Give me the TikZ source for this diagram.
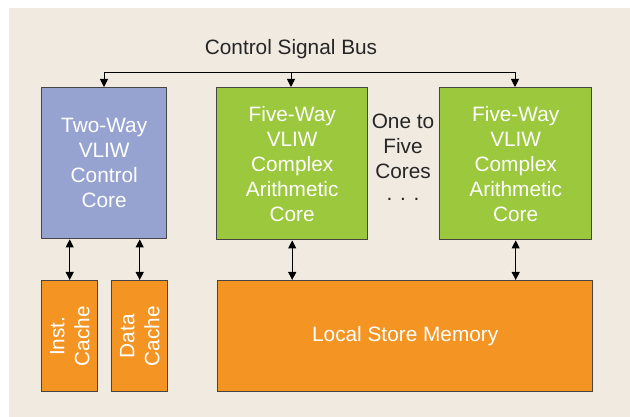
\documentclass[tikz,border=0pt]{standalone}
\usepackage{fontspec}
\setmainfont{Liberation Sans}
\usetikzlibrary{arrows.meta}
\definecolor{bgbeige}{HTML}{F1EAE1}
\definecolor{ctrlblue}{HTML}{96A3D1}
\definecolor{coregreen}{HTML}{9BC83C}
\definecolor{memorange}{HTML}{F39423}
\definecolor{edgegray}{HTML}{454545}
\tikzset{
  blk/.style={draw=edgegray, line width=1.4pt, inner sep=0pt, anchor=north west},
  wtext/.style={text=white, font=\fontsize{20.8}{25}\selectfont, align=center},
  btext/.style={text=black!85, font=\fontsize{20.8}{25}\selectfont, align=center},
  conn/.style={draw=black, line width=0.9pt, -{Triangle[length=8pt,width=8pt]}},
  bidir/.style={draw=black, line width=0.9pt, {Triangle[length=8pt,width=8pt]}-{Triangle[length=8pt,width=8pt]}}
}
\begin{document}
\begin{tikzpicture}[x=1pt,y=-1pt]
\useasboundingbox (0,0) rectangle (630,417);
\fill[white] (0,0) rectangle (630,417);
\fill[bgbeige] (9,8) rectangle (630,417);

\node[blk, fill=ctrlblue, minimum width=125pt, minimum height=151pt] (ctrl) at (41,87) {};
\node[wtext] at (ctrl.center) {Two-Way\\VLIW\\Control\\Core};

\node[blk, fill=coregreen, minimum width=151pt, minimum height=152pt] (core1) at (216,87) {};
\node[wtext] at (core1.center) {Five-Way\\VLIW\\Complex\\Arithmetic\\Core};

\node[blk, fill=coregreen, minimum width=152pt, minimum height=152pt] (core2) at (439,87) {};
\node[wtext] at (core2.center) {Five-Way\\VLIW\\Complex\\Arithmetic\\Core};

\node[blk, fill=memorange, minimum width=56pt, minimum height=111pt] (icache) at (41,280) {};
\node[wtext, rotate=90] at (icache.center) {Inst.\\Cache};

\node[blk, fill=memorange, minimum width=56pt, minimum height=111pt] (dcache) at (111,280) {};
\node[wtext, rotate=90] at (dcache.center) {Data\\Cache};

\node[blk, fill=memorange, minimum width=375pt, minimum height=111pt] (mem) at (217,280) {};
\node[wtext] at (mem.center) {Local Store Memory};

\node[btext] (bus) at (291,49) {Control Signal Bus};
\node[btext] (cores) at (403,146) {One to\\Five\\Cores};
\node[btext, font=\fontsize{20.8}{25}\selectfont, inner sep=0pt] (dots) at (403,199) {. . .};

\coordinate (busL) at (104,72);
\coordinate (busM) at (291,72);
\coordinate (busR) at (515,72);
\draw[line width=0.9pt] (busL) -- (busR);
\draw[conn] (busL) -- (ctrl.north -| busL);
\draw[conn] (busM) -- (core1.north -| busM);
\draw[conn] (busR) -- (core2.north -| busR);

\draw[bidir] (ctrl.south -| icache.north) -- (icache.north);
\draw[bidir] (ctrl.south -| dcache.north) -- (dcache.north);
\draw[bidir] (core1.south) -- (core1.south |- mem.north);
\draw[bidir] (core2.south) -- (core2.south |- mem.north);
\end{tikzpicture}
\end{document}
